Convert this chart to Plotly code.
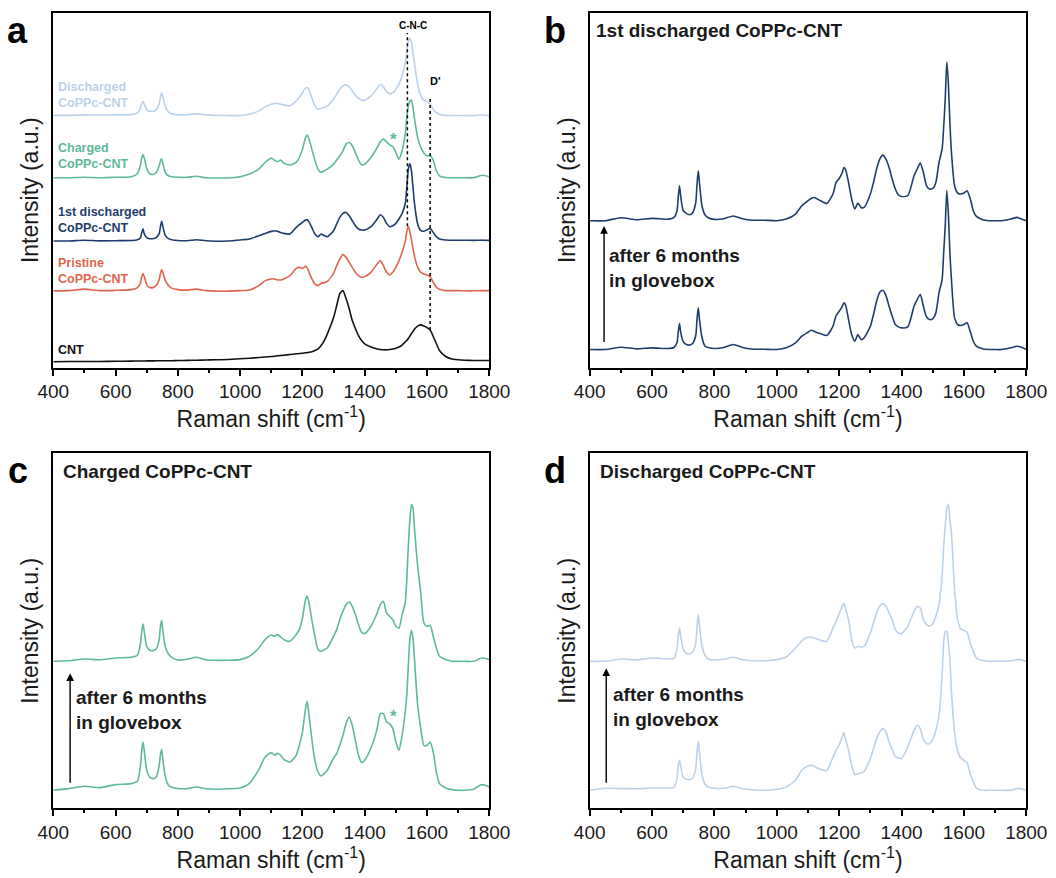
import plotly.graph_objects as go
from plotly.subplots import make_subplots

# Raman shift grid (cm-1), shared by every spectrum
WAVENUMBER = [
    400, 450, 500, 550, 600, 650,
    670, 680, 684, 688, 692, 700, 710, 720, 730, 740, 744, 748, 752, 760, 770, 780,
    800, 830, 860, 890, 920, 960,
    1000, 1030, 1060, 1080,
    1100, 1110, 1120, 1130, 1140, 1160, 1180, 1190,
    1200, 1210, 1215, 1220, 1230, 1240, 1250, 1260, 1270, 1280,
    1300, 1310, 1320, 1330, 1340, 1350, 1360, 1370, 1380, 1390,
    1400, 1420, 1440, 1450, 1460, 1470, 1480, 1490,
    1500, 1510, 1520, 1530, 1535, 1540, 1545, 1550, 1555, 1560, 1570, 1580, 1590,
    1600, 1610, 1620, 1630, 1640, 1660, 1680,
    1700, 1720, 1750, 1770, 1780, 1800,
]

# ---- panel a (intensities relative to each trace's own baseline) ----
CNT = [
    5.7, 6, 6, 6, 6.2, 6.4,
    6.5, 6.5, 6.5, 6.5, 6.5, 6.6, 6.6, 6.6, 6.7, 6.7, 6.7, 6.7, 6.7, 6.8, 6.8, 6.8,
    7, 7.1, 7.3, 7.5, 7.7, 8,
    8.7, 9.3, 10, 10.5,
    11, 11.3, 11.7, 12, 12.3, 13, 13.7, 14,
    14.3, 14.7, 14.9, 15.2, 15.8, 17, 18.7, 22, 27, 33.7,
    50, 62, 74, 77, 69, 59, 47, 39, 32, 27,
    23.7, 20.5, 18.5, 18, 17.7, 17.7, 18, 18.5,
    19.3, 20.5, 22.5, 25.5, 27, 29, 31.5, 34, 36, 38.5, 41.5, 42.7, 41.5,
    40, 37.5, 31, 24, 17, 11, 8.5,
    7.7, 7.3, 7, 7, 7, 7,
]
PRISTINE = [
    0.7, 1, 2.5, 1, 1.3, 2,
    4, 9, 15, 18, 15, 7, 4, 4, 6, 12, 18, 22, 19, 11, 6, 3.5,
    2, 1.5, 2.5, 1, 0.5, 0.5,
    1, 1.7, 6, 11,
    12.7, 12.7, 11.7, 11.7, 12.7, 16, 23.3, 24.3,
    23.3, 25.3, 24, 20.3, 12.7, 7.7, 6, 8.3, 9, 10.3,
    18.3, 26, 32.7, 37, 34.3, 29.3, 24.3, 19.3, 16, 14.3,
    15, 19.3, 27.7, 31, 26, 19.3, 16.7, 19.3,
    24.3, 31, 39.3, 50, 60, 65.5, 60, 52, 43, 35, 24.3, 19.3, 17.7,
    16.7, 15, 9.3, 4.3, 2.3, 1, 1,
    1, 0.8, 0.8, 1, 1, 1,
]
FIRST_DISCHARGED = [
    0.7, 0.7, 1.5, 0.8, 1, 1.2,
    2, 4, 9, 13, 8, 4, 3, 3, 4, 8, 15, 20.5, 15, 6, 3, 2,
    1.2, 1, 2, 1, 0.5, 0.7,
    1.7, 2.7, 6, 8.3,
    10.3, 11, 10.3, 9.3, 8.3, 7.7, 14.3, 17,
    19.3, 21.7, 22, 20.3, 14.3, 7.7, 5, 7.7, 6, 5,
    11, 17.7, 24.3, 28.3, 29.3, 26, 21, 16, 12.7, 11.7,
    11.7, 15, 22.7, 27, 24.3, 18.3, 15, 16,
    18.3, 22.7, 28.3, 38, 54, 72.7, 78.3, 71, 54.3, 37.7, 17.7, 11, 10.5,
    11.7, 13.3, 9.3, 5, 2.7, 1.7, 1.5,
    1.5, 1.5, 1.3, 1.5, 1.5, 1.3,
]
CHARGED = [
    1, 1, 1.5, 1, 1.5, 2,
    5, 14, 21, 24.3, 21, 10, 5, 4.3, 6, 13, 18, 20, 15, 6, 3, 2,
    1.5, 1.5, 2.5, 1, 0.8, 0.8,
    2, 4.7, 9.7, 16.3,
    20.7, 18.7, 17, 18.7, 15.7, 14, 16.3, 21.3,
    29.7, 41, 43.7, 41, 29.7, 18.7, 9.7, 6.3, 8, 9.7,
    14.7, 18.7, 23, 28, 34.7, 36.3, 33, 26.3, 18.7, 14,
    14.7, 21.3, 31.3, 37, 39.7, 37, 34, 32.3,
    26.3, 19.7, 28, 44.7, 61.3, 73, 78, 78.7, 71.3, 59.7, 41.3, 31.3, 25.7,
    23, 23, 18.7, 8, 3, 1.3, 1,
    1, 1, 1, 3, 3.5, 2,
]
DISCHARGED = [
    0.5, 0.5, 1, 0.8, 1, 1.2,
    3, 8, 12, 14.7, 12, 6, 4.7, 4.7, 6, 12, 19, 23, 19, 9, 4, 2,
    1, 1.2, 2, 1, 0.5, 0.3,
    0.3, 1.7, 5, 9,
    11.7, 12.3, 12.3, 11.7, 11, 10, 15, 18.3,
    23.3, 27.7, 28.3, 26.7, 18.3, 10, 6.7, 7.7, 8.3, 10,
    16.7, 21.7, 26.7, 30, 31, 29, 25, 20.7, 17.7, 15.7,
    15.7, 20, 27.7, 31.7, 29, 24.3, 22.3, 23.3,
    26.7, 31.7, 40, 53.3, 63, 75, 77.7, 73.3, 63, 51.7, 31.7, 20, 15.7,
    14, 11.7, 6.7, 3.3, 1.7, 0.5, 0.3,
    0.3, 0.3, 0.3, 0.8, 0.8, 0.3,
]

# ---- panel b: 1st discharged, fresh and after 6 months ----
FIRST_DIS_FRESH = [
    0, 0, 2.3, 0.7, 1.7, 1,
    2, 7, 18, 26, 17, 8, 5, 4.5, 6, 14, 30, 41.7, 30, 12, 3.3, 2,
    1, 2, 5, 2, 0.5, 0.3,
    0, 1.7, 6.7, 13.3,
    17.3, 19.3, 18.3, 16.7, 16, 14, 23.3, 34,
    38.3, 43.3, 46.7, 45, 30, 15, 8.3, 15, 10, 11.7,
    23.3, 35, 48.3, 57.3, 59.3, 54, 43.3, 33.3, 25, 22.7,
    21.7, 22.7, 43.3, 50, 55, 43.3, 32.7, 30,
    30.7, 36.7, 56.7, 70, 96.7, 123.3, 159.3, 136.7, 96.7, 70, 31.7, 25, 24,
    25, 26.7, 18.3, 8.3, 3.3, 0.7, 0,
    0, 0, 1.7, 3.3, 2.7, 0,
]
FIRST_DIS_AGED = [
    0, 0, 3, 1, 2.3, 1.5,
    3, 10, 24, 35, 24, 10, 7.3, 6, 8, 18, 36, 50, 38, 15, 5.7, 3,
    1.3, 2, 4.7, 2, 0.5, 0.5,
    0, 1.7, 6.7, 15,
    20, 22.3, 23.3, 21.7, 20, 17.3, 26.7, 38.3,
    42.3, 48.3, 53.3, 51.7, 38.3, 21.7, 11.7, 17.7, 13.3, 13.3,
    26.7, 38.3, 51.7, 61.7, 65.7, 61.7, 53.3, 41.7, 31.7, 25.7,
    24.3, 25, 45, 51.7, 57.7, 48.3, 35, 31.7,
    32.3, 38.3, 58.3, 71.7, 93.3, 121.7, 159, 138.3, 98.3, 68.3, 35, 27.7, 26.7,
    27.7, 30, 22.3, 10, 4.3, 1, 0,
    0, 0, 1.7, 3.3, 2.3, 0,
]

# ---- panel c: charged ----
CHARGED_FRESH = [
    0, 1.7, 4, 2.7, 5.7, 6.7,
    9, 25, 40, 48.3, 40, 20, 13, 11.7, 13, 25, 36, 40.7, 30, 13, 5, 3,
    1.7, 1.7, 3.3, 1.5, 1, 1.5,
    2.3, 7, 20.7, 33.3,
    37.7, 35, 37, 35, 31, 28.3, 35, 45,
    58.3, 81.7, 89, 78.3, 51.7, 30, 18.3, 14.3, 16.7, 20,
    32.3, 36.7, 45, 55, 66.7, 73.3, 65, 50, 35, 27.7,
    30, 42.3, 61.7, 76.7, 76.7, 68.3, 66.7, 61.7,
    48.3, 40, 55, 78.3, 95, 125, 151.7, 160, 151.7, 130, 85, 61.7, 45,
    45, 48.3, 38.3, 18.3, 6.7, 2.3, 0.7,
    0, 0, 1, 5, 5.7, 3.3,
]
CHARGED_AGED = [
    0, 0.5, 2.3, 1.5, 3.3, 4,
    6, 18, 30, 37.3, 30, 15, 11, 10.7, 12, 22, 35, 40.7, 30, 14, 7.3, 4,
    1.3, 2, 4, 1.5, 1, 1,
    1.7, 5, 13.3, 21.7,
    26.3, 25, 26.7, 24.3, 21.7, 20, 26.7, 31.7,
    43.3, 61.7, 65, 60, 41.7, 25, 11.7, 10, 11.7, 13.3,
    25, 31.7, 41.7, 50, 56.7, 59.3, 55, 46.7, 36.7, 29,
    27.7, 35, 48.3, 56.7, 60, 48.3, 45, 41.7,
    35, 33.3, 46.7, 58.3, 81.7, 115, 141.7, 156.7, 153.3, 131.7, 95, 68.3, 38.3,
    35, 36, 25, 13.3, 5, 1.7, 0,
    0, 0, 0, 2.7, 3.3, 1.7,
]

# ---- panel d: discharged ----
DISCHARGED_FRESH = [
    0, 2, 1.7, 1.5, 2.3, 2.3,
    3, 12, 24, 30, 24, 13, 11, 10.7, 12, 22, 38, 49, 38, 16, 6, 3.3,
    2, 2, 4, 1.5, 0.5, 0,
    1, 3.3, 10, 20,
    24.3, 25, 24, 22.3, 21, 19.7, 33.3, 40,
    45.7, 53.3, 57.7, 51.7, 40, 25, 15.7, 16.7, 17.3, 19,
    31.7, 41.7, 51.7, 58.3, 61.7, 58.3, 48.3, 41, 34, 32.3,
    31.7, 43.3, 60, 65, 61.7, 51, 46.7, 46.7,
    51, 60, 75, 115, 148.3, 159, 159, 148.3, 131.7, 98.3, 58.3, 39, 32.3,
    30, 27.7, 16.7, 8.3, 2.3, 0, 0,
    0, 0, 0, 1.7, 1.7, 0,
]
DISCHARGED_AGED = [
    0, 0, 2.3, 1.5, 3.3, 2.5,
    3, 12, 26, 33.3, 25, 12, 8, 7.3, 9, 18, 34, 46.7, 36, 15, 6, 2.3,
    1.3, 2, 4, 1.5, 0.5, 0.5,
    1.7, 4.3, 13.3, 20.3,
    24.3, 24, 23.3, 22.3, 21, 20, 33.3, 40,
    47.7, 55, 58.3, 53.3, 41.7, 21.7, 13.3, 15, 14.3, 15,
    28.3, 38.3, 48.3, 55, 57.7, 55, 48.3, 41.7, 31.7, 28.3,
    27.7, 35, 50, 55, 53.3, 41.7, 36.7, 35,
    37.7, 45, 56.7, 85, 115, 135, 153.3, 156.7, 141.7, 128.3, 71.7, 41.7, 32.3,
    31, 29, 18.3, 10, 3.3, 0.7, 0,
    0, 0, 0.5, 1.7, 1.7, 0,
]

# stacking offsets (same arbitrary units as the intensities)
OFFSETS_A = [0, 76, 126, 189, 252]
OFFSET_FRESH = 18
OFFSET_AGED = 147

BLACK = "#111111"
RED = "#e0654f"
NAVY = "#1f3d6c"
GREEN = "#5fb99b"
LIGHT = "#bcd2e8"
FONT = "Arial, Liberation Sans, sans-serif"

W, H = 1056, 878


def shifted(values, offset):
    return [v + offset for v in values]


def line_trace(values, offset, color):
    return go.Scatter(
        x=WAVENUMBER, y=shifted(values, offset), mode="lines",
        line=dict(color=color, width=1.6, shape="spline", smoothing=0.6),
        hoverinfo="skip", showlegend=False,
    )


fig = make_subplots(rows=2, cols=2)

# panel a
for values, off, col in zip([CNT, PRISTINE, FIRST_DISCHARGED, CHARGED, DISCHARGED],
                            OFFSETS_A, [BLACK, RED, NAVY, GREEN, LIGHT]):
    fig.add_trace(line_trace(values, off, col), row=1, col=1)

# panels b, c, d
panels = [
    (1, 2, FIRST_DIS_FRESH, FIRST_DIS_AGED, NAVY),
    (2, 1, CHARGED_FRESH, CHARGED_AGED, GREEN),
    (2, 2, DISCHARGED_FRESH, DISCHARGED_AGED, LIGHT),
]
for r, c, fresh, aged, col in panels:
    fig.add_trace(line_trace(fresh, OFFSET_FRESH, col), row=r, col=c)
    fig.add_trace(line_trace(aged, OFFSET_AGED, col), row=r, col=c)

# axes
x_dom = {1: [53.3 / W, 489.3 / W], 2: [589.7 / W, 1026.3 / W]}
y_dom = {1: [1 - 367.5 / H, 1 - 13 / H], 2: [1 - 808.3 / H, 1 - 453.3 / H]}
for r in (1, 2):
    for c in (1, 2):
        fig.update_xaxes(
            domain=x_dom[c], range=[400, 1800], tick0=400, dtick=200,
            ticks="outside", ticklen=6, tickwidth=1.5, tickcolor="black",
            showline=True, linecolor="black", linewidth=2, mirror=True,
            showgrid=False, zeroline=False, automargin=False,
            minor=dict(ticks="outside", dtick=100, ticklen=3, tickwidth=1.5,
                       tickcolor="black", showgrid=False),
            tickfont=dict(size=19, color="#1a1a1a", family=FONT),
            title=dict(text="Raman shift (cm<sup>-1</sup>)", standoff=0,
                       font=dict(size=23, color="#1a1a1a", family=FONT)),
            row=r, col=c,
        )
        fig.update_yaxes(
            domain=y_dom[r], range=[0, 355], showticklabels=False, ticks="",
            showline=True, linecolor="black", linewidth=2, mirror=True,
            showgrid=False, zeroline=False, automargin=False,
            title=dict(text="Intensity (a.u.)", standoff=6,
                       font=dict(size=23, color="#1a1a1a", family=FONT)),
            row=r, col=c,
        )

# dotted reference lines in panel a
fig.add_shape(type="line", xref="x", yref="y", x0=1537, x1=1537, y0=141.5, y1=335,
              line=dict(color="black", width=1.5, dash="dot"))
fig.add_shape(type="line", xref="x", yref="y", x0=1610, x1=1610, y0=37.5, y1=272,
              line=dict(color="black", width=1.5, dash="dot"))

ann = []
# panel letters
for letter, px, py in [("a", 17, 30.5), ("b", 555, 30.5), ("c", 18, 470), ("d", 555, 470)]:
    ann.append(dict(text=f"<b>{letter}</b>", x=px / W, y=1 - py / H, xref="paper", yref="paper",
                    xanchor="center", yanchor="middle", showarrow=False,
                    font=dict(size=36, color="black", family=FONT)))

# panel a labels
for txt, yy, col in [("Discharged<br>CoPPc-CNT", 94.8, LIGHT),
                     ("Charged<br>CoPPc-CNT", 156.2, GREEN),
                     ("1st discharged<br>CoPPc-CNT", 219.7, NAVY),
                     ("Pristine<br>CoPPc-CNT", 270.5, RED),
                     ("CNT", 350, BLACK)]:
    ann.append(dict(text=f"<b>{txt}</b>", x=55.5 / W, y=1 - yy / H, xref="paper", yref="paper",
                    xanchor="left", yanchor="middle", align="left", showarrow=False,
                    font=dict(size=12.5, color=col, family=FONT)))

ann.append(dict(text="<b>C-N-C</b>", x=1555, y=342, xref="x", yref="y", showarrow=False,
                font=dict(size=10, color="black", family=FONT)))
ann.append(dict(text="<b>D'</b>", x=1626, y=287, xref="x", yref="y", showarrow=False,
                font=dict(size=11, color="black", family=FONT)))
ann.append(dict(text="<b>*</b>", x=1493, y=228, xref="x", yref="y", showarrow=False,
                font=dict(size=17, color=GREEN, family=FONT)))
ann.append(dict(text="<b>*</b>", x=1492, y=92, xref="x3", yref="y3", showarrow=False,
                font=dict(size=17, color=GREEN, family=FONT)))

# titles, arrows and notes for panels b-d
for xr, yr, title, tx, ax_x, ax_top, note_x, note_y in [
    ("x2", "y2", "1st discharged CoPPc-CNT", 415, 446, 141.6, 457, 100),
    ("x3", "y3", "Charged CoPPc-CNT", 425, 454, 135, 468, 98.3),
    ("x4", "y4", "Discharged CoPPc-CNT", 425, 453, 140, 468, 101.6),
]:
    ann.append(dict(text=f"<b>{title}</b>", x=tx, y=337, xref=xr, yref=yr,
                    xanchor="left", yanchor="middle", showarrow=False,
                    font=dict(size=19, color="#1a1a1a", family=FONT)))
    ann.append(dict(text="", x=ax_x, y=ax_top, ax=ax_x, ay=24, xref=xr, yref=yr,
                    axref=xr, ayref=yr, showarrow=True, arrowhead=2, arrowsize=1.1,
                    arrowwidth=1.4, arrowcolor="black"))
    ann.append(dict(text="<b>after 6 months<br>in glovebox</b>", x=note_x, y=note_y,
                    xref=xr, yref=yr, xanchor="left", yanchor="middle", align="left",
                    showarrow=False, font=dict(size=19, color="#1a1a1a", family=FONT)))

fig.update_layout(
    width=W, height=H, autosize=False,
    margin=dict(l=0, r=0, t=0, b=0),
    paper_bgcolor="white", plot_bgcolor="white",
    font=dict(family=FONT, color="#1a1a1a"),
    showlegend=False, hovermode=False,
    annotations=ann,
)

fig.write_html(
    "out.html",
    config={"displayModeBar": False},
    post_script="document.body.style.margin='0';document.body.style.overflow='hidden';",
)
